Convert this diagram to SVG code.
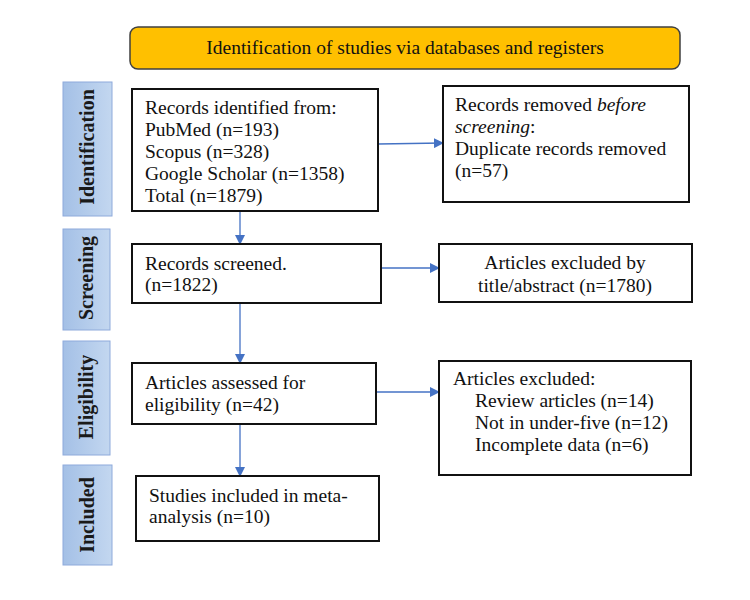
<svg xmlns="http://www.w3.org/2000/svg" width="750" height="600" viewBox="0 0 750 600">
<style>
.t{font-family:"Liberation Serif","Times New Roman",serif;font-size:19.5px;fill:#111}
.side{font-family:"Liberation Serif","Times New Roman",serif;font-size:20px;font-weight:bold;fill:#1a1a1a}
.box{fill:#fff;stroke:#111;stroke-width:2}
.sbox{fill:url(#g);stroke:#8EAADB;stroke-width:1}
.c{stroke:#4472C4;stroke-width:1.3;fill:none;marker-end:url(#a)}
</style>
<defs>
<linearGradient id="g" x1="0" y1="0" x2="1" y2="0">
<stop offset="0" stop-color="#A4C0E6"/>
<stop offset="1" stop-color="#C3D7F0"/>
</linearGradient>
<marker id="a" markerWidth="10" markerHeight="10" refX="9" refY="5" orient="auto" markerUnits="userSpaceOnUse">
<path d="M0,0 L10,5 L0,10 z" fill="#4472C4"/>
</marker>
</defs>
<rect width="750" height="600" fill="#fff"/>
<g id="banner">
<rect x="130" y="27" width="550" height="42" rx="8" fill="#FFC000" stroke="#404040" stroke-width="1.5"/>
<text class="t" x="405" y="54" text-anchor="middle">Identification of studies via databases and registers</text>
</g>
<g id="side-identification">
<rect class="sbox" x="63" y="82" width="49" height="134"/>
<text class="side" transform="translate(94,147) rotate(-90)" text-anchor="middle">Identification</text>
</g>
<g id="side-screening">
<rect class="sbox" x="63" y="229" width="47" height="101"/>
<text class="side" transform="translate(93,278) rotate(-90)" text-anchor="middle">Screening</text>
</g>
<g id="side-eligibility">
<rect class="sbox" x="63" y="341" width="47" height="114"/>
<text class="side" transform="translate(93,397) rotate(-90)" text-anchor="middle">Eligibility</text>
</g>
<g id="side-included">
<rect class="sbox" x="63" y="465" width="49" height="100"/>
<text class="side" transform="translate(94,515) rotate(-90)" text-anchor="middle">Included</text>
</g>
<g id="connectors">
<line class="c" x1="378" y1="144" x2="443" y2="143"/>
<line class="c" x1="240" y1="211" x2="240" y2="244"/>
<line class="c" x1="381" y1="268" x2="439" y2="268"/>
<line class="c" x1="240" y1="303" x2="240" y2="363"/>
<line class="c" x1="376" y1="392" x2="439" y2="392"/>
<line class="c" x1="240" y1="424" x2="240" y2="476"/>
</g>
<g id="records-identified">
<rect class="box" x="132" y="89" width="246" height="122"/>
<text class="t" x="145" y="114">Records identified from:</text>
<text class="t" x="145" y="136">PubMed (n=193)</text>
<text class="t" x="145" y="158">Scopus (n=328)</text>
<text class="t" x="145" y="180">Google Scholar (n=1358)</text>
<text class="t" x="145" y="202">Total (n=1879)</text>
</g>
<g id="records-removed">
<rect class="box" x="443" y="86" width="246" height="116"/>
<text class="t" x="455" y="111">Records removed <tspan font-style="italic">before</tspan></text>
<text class="t" x="455" y="133"><tspan font-style="italic">screening</tspan>:</text>
<text class="t" x="455" y="155">Duplicate records removed</text>
<text class="t" x="455" y="177">(n=57)</text>
</g>
<g id="records-screened">
<rect class="box" x="132" y="244" width="249" height="59"/>
<text class="t" x="145" y="270">Records screened.</text>
<text class="t" x="145" y="291">(n=1822)</text>
</g>
<g id="excluded-title">
<rect class="box" x="439" y="244" width="253" height="58"/>
<text class="t" x="565" y="269" text-anchor="middle">Articles excluded by</text>
<text class="t" x="565" y="292" text-anchor="middle">title/abstract (n=1780)</text>
</g>
<g id="assessed">
<rect class="box" x="132" y="363" width="244" height="61"/>
<text class="t" x="145" y="389">Articles assessed for</text>
<text class="t" x="145" y="411">eligibility (n=42)</text>
</g>
<g id="excluded">
<rect class="box" x="439" y="361" width="252" height="114"/>
<text class="t" x="453" y="385">Articles excluded:</text>
<text class="t" x="475" y="407">Review articles (n=14)</text>
<text class="t" x="475" y="429">Not in under-five (n=12)</text>
<text class="t" x="475" y="451">Incomplete data (n=6)</text>
</g>
<g id="included">
<rect class="box" x="136" y="476" width="243" height="65"/>
<text class="t" x="149" y="502">Studies included in meta-</text>
<text class="t" x="149" y="523">analysis (n=10)</text>
</g>
</svg>
